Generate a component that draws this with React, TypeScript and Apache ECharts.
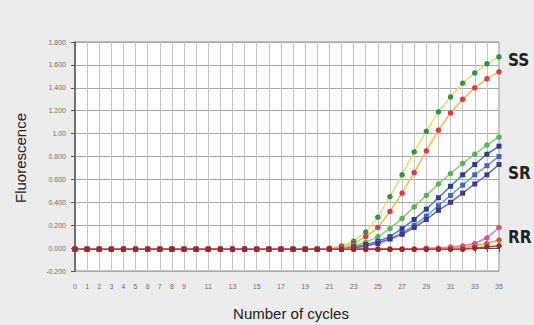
import React, { useEffect, useRef } from "react";
import * as echarts from "echarts";

const cycles = [0,1,2,3,4,5,6,7,8,9,10,11,12,13,14,15,16,17,18,19,20,21,22,23,24,25,26,27,28,29,30,31,32,33,34,35];

const xTickLabels = ["0","1","2","3","4","5","6","7","8","9","11","13","15","17","19","21","23","25","27","29","31","33","35"];
const yTickLabels = ["-0.200","0.000","0.200","0.400","0.600","0.800","1.00","1.200","1.400","1.600","1.800"];

// SS group
const ssGreen = [-0.01,-0.01,-0.01,-0.01,-0.01,-0.01,-0.01,-0.01,-0.01,-0.01,-0.01,-0.01,-0.01,-0.01,-0.01,-0.01,-0.01,-0.01,-0.01,-0.01,-0.01,0.0,0.02,0.06,0.14,0.27,0.45,0.64,0.84,1.02,1.19,1.32,1.44,1.53,1.61,1.67];
const ssRed = [-0.01,-0.01,-0.01,-0.01,-0.01,-0.01,-0.01,-0.01,-0.01,-0.01,-0.01,-0.01,-0.01,-0.01,-0.01,-0.01,-0.01,-0.01,-0.01,-0.01,-0.01,-0.01,0.01,0.04,0.10,0.18,0.32,0.48,0.66,0.85,1.03,1.18,1.30,1.40,1.48,1.54];
// SR group
const srGreen = [-0.01,-0.01,-0.01,-0.01,-0.01,-0.01,-0.01,-0.01,-0.01,-0.01,-0.01,-0.01,-0.01,-0.01,-0.01,-0.01,-0.01,-0.01,-0.01,-0.01,-0.01,-0.01,0.0,0.02,0.05,0.10,0.17,0.26,0.36,0.46,0.56,0.65,0.74,0.82,0.90,0.97];
const srNavy = [-0.01,-0.01,-0.01,-0.01,-0.01,-0.01,-0.01,-0.01,-0.01,-0.01,-0.01,-0.01,-0.01,-0.01,-0.01,-0.01,-0.01,-0.01,-0.01,-0.01,-0.01,-0.01,-0.01,0.01,0.03,0.06,0.10,0.17,0.25,0.34,0.44,0.54,0.64,0.73,0.82,0.89];
const srBlue = [-0.01,-0.01,-0.01,-0.01,-0.01,-0.01,-0.01,-0.01,-0.01,-0.01,-0.01,-0.01,-0.01,-0.01,-0.01,-0.01,-0.01,-0.01,-0.01,-0.01,-0.01,-0.01,-0.01,0.0,0.02,0.05,0.08,0.13,0.20,0.28,0.37,0.46,0.55,0.64,0.72,0.80];
const srPurple = [-0.01,-0.01,-0.01,-0.01,-0.01,-0.01,-0.01,-0.01,-0.01,-0.01,-0.01,-0.01,-0.01,-0.01,-0.01,-0.01,-0.01,-0.01,-0.01,-0.01,-0.01,-0.01,-0.01,0.0,0.02,0.04,0.08,0.12,0.18,0.25,0.33,0.40,0.48,0.56,0.64,0.73];
// RR group
const rrOrange = [-0.01,-0.01,-0.01,-0.01,-0.01,-0.01,-0.01,-0.01,-0.01,-0.01,-0.01,-0.01,-0.01,-0.01,-0.01,-0.01,-0.01,-0.01,-0.01,-0.01,-0.01,-0.01,-0.01,-0.01,-0.01,-0.01,-0.01,-0.01,-0.01,-0.01,-0.01,0.0,0.0,0.02,0.04,0.07];
const rrPink = [-0.01,-0.01,-0.01,-0.01,-0.01,-0.01,-0.01,-0.01,-0.01,-0.01,-0.01,-0.01,-0.01,-0.01,-0.01,-0.01,-0.01,-0.01,-0.01,-0.01,-0.01,-0.01,-0.01,-0.01,-0.01,-0.01,-0.01,-0.01,-0.01,0.0,0.0,0.01,0.02,0.04,0.09,0.18];
const rrBrown = [-0.01,-0.01,-0.01,-0.01,-0.01,-0.01,-0.01,-0.01,-0.01,-0.01,-0.01,-0.01,-0.01,-0.01,-0.01,-0.01,-0.01,-0.01,-0.01,-0.01,-0.01,-0.01,-0.01,-0.01,-0.01,-0.01,-0.01,-0.01,-0.01,-0.01,-0.01,-0.01,-0.01,0.0,0.01,0.02];

const groupLabels = [
  { text: "SS", value: 1.64 },
  { text: "SR", value: 0.66 },
  { text: "RR", value: 0.10 },
];

function pairs(vals: number[]) {
  return cycles.map((c, i) => [c, vals[i]]);
}

function mk(name: string, vals: number[], line: string, marker: string, symbol = "circle", size = 5.5) {
  return {
    name,
    type: "line",
    data: pairs(vals),
    symbol,
    symbolSize: size,
    lineStyle: { color: line, width: 1.6 },
    itemStyle: { color: marker },
    z: 3,
  };
}

export default function App() {
  const ref = useRef<HTMLDivElement>(null);
  useEffect(() => {
    const chart = echarts.init(ref.current!, null, { renderer: "svg" });
    const font = "'Liberation Sans', Arial, sans-serif";
    const option: any = {
      animation: false,
      backgroundColor: "#ececec",
      grid: {
        left: 75, right: 35, top: 42, bottom: 54,
        show: true, backgroundColor: "#ffffff", borderColor: "#8a8a8a", borderWidth: 1,
      },
      xAxis: {
        type: "value", min: 0, max: 35, interval: 1,
        axisLine: { show: true, lineStyle: { color: "#555", width: 1 } },
        axisTick: { show: true, length: 4, lineStyle: { color: "#555" } },
        splitLine: { show: true, lineStyle: { color: "#c4c4c4", width: 1 } },
        axisLabel: {
          color: "#707070", fontSize: 7, fontFamily: font, margin: 12,
          formatter: (v: number) => {
            const s = String(Math.round(v));
            return xTickLabels.indexOf(s) >= 0 ? s : "";
          },
        },
      },
      yAxis: {
        type: "value", min: -0.2, max: 1.8, interval: 0.2,
        axisLine: { show: true, lineStyle: { color: "#555", width: 1.5 } },
        axisTick: { show: true, length: 4, lineStyle: { color: "#555" } },
        splitLine: { show: true, lineStyle: { color: "#a8a8a8", width: 1 } },
        axisLabel: {
          color: "#707070", fontSize: 7, fontFamily: font, margin: 9,
          formatter: (v: number) => {
            const idx = Math.round((v + 0.2) / 0.2);
            return yTickLabels[idx] ?? "";
          },
        },
      },
      series: [
        mk("SS green", ssGreen, "#e6df6a", "#2f8f55"),
        mk("SS red", ssRed, "#f2c04a", "#e0354a"),
        mk("SR green", srGreen, "#8fd07a", "#5bb05a"),
        mk("SR navy", srNavy, "#5a78d0", "#2a3f8f", "rect", 5),
        mk("SR blue", srBlue, "#7a9ae0", "#4466c0", "rect", 5),
        mk("SR purple", srPurple, "#6a6ad0", "#3a3a90", "rect", 5),
        mk("RR orange", rrOrange, "#e8a060", "#c06030"),
        mk("RR pink", rrPink, "#f07a9a", "#e05080"),
        mk("RR brown", rrBrown, "#c04040", "#9a2a2a"),
      ],
    };
    chart.setOption(option);
    const gfx: any[] = [
      {
        type: "text", x: 20, y: 158, rotation: Math.PI / 2,
        style: { text: "Fluorescence", fill: "#222", font: `15px ${font}`, textAlign: "center", textVerticalAlign: "middle" },
      },
      {
        type: "text", x: 291, y: 313,
        style: { text: "Number of cycles", fill: "#222", font: `15px ${font}`, textAlign: "center", textVerticalAlign: "middle" },
      },
    ];
    groupLabels.forEach((g) => {
      const p = chart.convertToPixel({ gridIndex: 0 }, [35, g.value]);
      gfx.push({
        type: "text", x: 508, y: p[1],
        style: {
          text: g.text, fill: "#222",
          font: `bold 17px 'Liberation Sans Narrow', 'DejaVu Sans Condensed', sans-serif`,
          textVerticalAlign: "middle",
        },
      });
    });
    chart.setOption({ graphic: gfx });
    return () => chart.dispose();
  }, []);
  return <div ref={ref} style={{ position: "fixed", left: 0, top: 0, width: 534, height: 325 }} />;
}
